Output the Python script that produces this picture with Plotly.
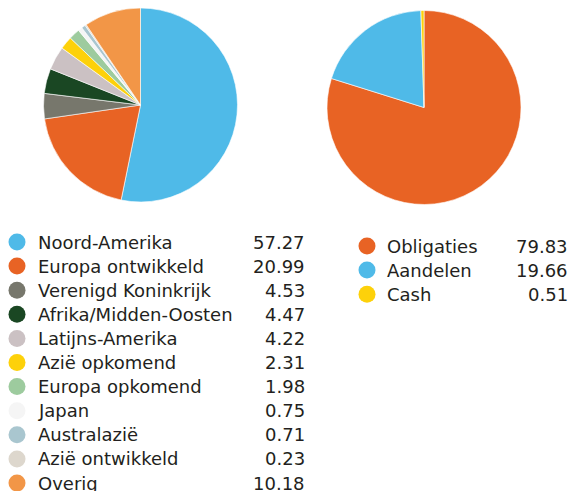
import plotly.graph_objects as go

# ---- data ----
region_labels = ["Noord-Amerika", "Europa ontwikkeld", "Verenigd Koninkrijk",
                 "Afrika/Midden-Oosten", "Latijns-Amerika", "Azië opkomend",
                 "Europa opkomend", "Japan", "Australazië", "Azië ontwikkeld", "Overig"]
region_values = [57.27, 20.99, 4.53, 4.47, 4.22, 2.31, 1.98, 0.75, 0.71, 0.23, 10.18]
region_colors = ["#4FBAE8", "#E86324", "#77776C", "#1A4723", "#CBC1C3", "#FDD10A",
                 "#9DCB9E", "#F5F5F5", "#A9C6CF", "#DDD7CD", "#F29647"]

asset_labels = ["Obligaties", "Aandelen", "Cash"]
asset_values = [79.83, 19.66, 0.51]
asset_colors = ["#E86324", "#4FBAE8", "#FDD10A"]

W, H = 571, 491
FONT = "DejaVu Sans"
TXT = "#231F20"

fig = go.Figure()

def dom(x0, x1, y0, y1):
    # page pixel box -> figure paper domain
    return dict(x=[x0 / W, x1 / W], y=[1 - y1 / H, 1 - y0 / H])

fig.add_trace(go.Pie(values=region_values, labels=region_labels, sort=False,
                     direction="clockwise", rotation=0, textinfo="none",
                     hoverinfo="label+value",
                     marker=dict(colors=region_colors, line=dict(color="white", width=0.6)),
                     domain=dom(43, 238, 8, 202), showlegend=False))
fig.add_trace(go.Pie(values=asset_values, labels=asset_labels, sort=False,
                     direction="clockwise", rotation=0, textinfo="none",
                     hoverinfo="label+value",
                     marker=dict(colors=asset_colors, line=dict(color="white", width=0.6)),
                     domain=dom(327, 521, 10, 205), showlegend=False))

annotations = []

def legend_block(labels, values, colors, cx, tx, vx, y0, dy):
    ys = [y0 + i * dy for i in range(len(labels))]
    fig.add_trace(go.Scatter(x=[cx] * len(labels), y=ys, mode="markers",
                             marker=dict(size=17, color=colors, line=dict(width=0)),
                             hoverinfo="skip", showlegend=False, cliponaxis=False))
    for lab, val, y in zip(labels, values, ys):
        annotations.append(dict(x=tx, y=y, xref="x", yref="y", text=lab, showarrow=False,
                                xanchor="left", yanchor="middle",
                                font=dict(family=FONT, size=18, color=TXT)))
        annotations.append(dict(x=vx, y=y, xref="x", yref="y", text=f"{val:.2f}", showarrow=False,
                                xanchor="right", yanchor="middle",
                                font=dict(family=FONT, size=18, color=TXT)))

legend_block(region_labels, region_values, region_colors, 17, 36, 307, 242, 24.1)
legend_block(asset_labels, asset_values, asset_colors, 367, 385, 570, 246, 24.1)

fig.update_layout(
    width=W, height=H, margin=dict(l=0, r=0, t=0, b=0),
    paper_bgcolor="white", plot_bgcolor="white",
    xaxis=dict(range=[0, W], visible=False, fixedrange=True, domain=[0, 1]),
    yaxis=dict(range=[H, 0], visible=False, fixedrange=True, domain=[0, 1]),
    annotations=annotations, showlegend=False,
)

fig.write_html("out.html", config={"displayModeBar": False},
               post_script="document.body.style.margin='0px';document.body.style.overflow='hidden';")
